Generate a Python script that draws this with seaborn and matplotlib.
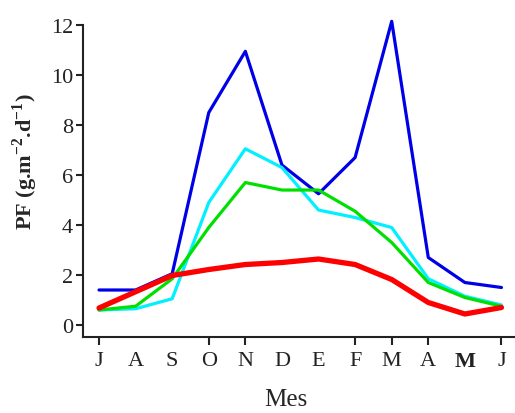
import pandas as pd
import seaborn as sns
import matplotlib.pyplot as plt

# Monthly values
months = ['J', 'A', 'S', 'O', 'N', 'D', 'E', 'F', 'M', 'A', 'M', 'J']
blue = [1.4, 1.4, 2.05, 8.5, 10.95, 6.4, 5.25, 6.7, 12.15, 2.7, 1.7, 1.5]
cyan = [0.6, 0.65, 1.05, 4.9, 7.05, 6.3, 4.6, 4.3, 3.9, 1.85, 1.15, 0.8]
green = [0.6, 0.75, 1.85, 3.9, 5.7, 5.4, 5.4, 4.55, 3.3, 1.7, 1.1, 0.75]
red = [0.68, 1.33, 1.98, 2.22, 2.42, 2.5, 2.64, 2.42, 1.82, 0.9, 0.44, 0.7]

series = {'blue': blue, 'cyan': cyan, 'green': green, 'red': red}
colors = {'blue': '#0000e8', 'cyan': '#00f0ff', 'green': '#00e000', 'red': '#ff0000'}
widths = {'blue': 2.3, 'cyan': 2.3, 'green': 2.3, 'red': 3.8}

rows = []
for name, vals in series.items():
    for i, v in enumerate(vals):
        rows.append({'mes': i, 'pf': v, 'serie': name})
df = pd.DataFrame(rows)

sns.set_style('ticks')
plt.rcParams['font.family'] = ['Liberation Serif', 'DejaVu Serif']
plt.rcParams['mathtext.fontset'] = 'custom'
plt.rcParams['mathtext.rm'] = 'Liberation Serif'
plt.rcParams['mathtext.bf'] = 'Liberation Serif:bold'

fig = plt.figure(figsize=(5.15, 4.14), dpi=100)
ax = fig.add_axes([0.161, 0.1836, 0.839, 0.7534])

for name in series:
    sns.lineplot(data=df[df.serie == name], x='mes', y='pf', color=colors[name],
                 linewidth=widths[name], ax=ax, clip_on=False, legend=False)

ax.set_xlim(-0.44, 11.37)
ax.set_ylim(-0.48, 12)
ax.set_yticks([0, 2, 4, 6, 8, 10, 12])
ax.set_xticks(range(12))
ax.set_xticklabels(months)
ax.tick_params(axis='both', labelsize=16, width=1.5, color='#222222', labelcolor='#222222')
ax.tick_params(axis='y', length=5, pad=2)
ax.tick_params(axis='x', length=6, pad=4)

# some month ticks have no tick mark in the original
for i in [1, 2, 5, 6, 10]:
    ax.xaxis.get_major_ticks()[i].tick1line.set_visible(False)
ax.get_xticklabels()[10].set_fontweight('bold')

for side in ['left', 'bottom']:
    ax.spines[side].set_linewidth(1.5)
    ax.spines[side].set_color('#222222')
sns.despine(ax=ax)

ax.set_ylabel(r'PF (g.m$^{\mathbf{-2}}$.d$^{\mathbf{-1}}$)', fontsize=16, fontweight='bold')
ax.yaxis.set_label_coords(-0.1, 0.565)
ax.set_xlabel('Mes', fontsize=18)
ax.xaxis.set_label_coords(0.47, -0.165)

plt.savefig('out.png', dpi=100)
